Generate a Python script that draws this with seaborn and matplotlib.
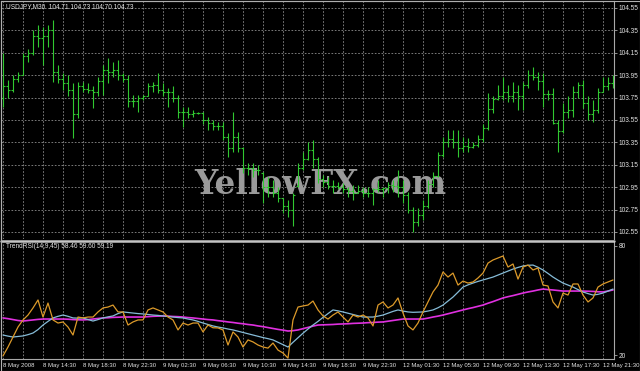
import matplotlib
matplotlib.use("Agg")
import matplotlib.pyplot as plt
from matplotlib.lines import Line2D
import seaborn as sns
import pandas as pd
import numpy as np

# ---------------- data ----------------
symbol_title = "USDJPY,M30  104.71 104.73 104.70 104.73"
ind_title = "TrendRSI(14,9,45) 58.46 59.60 59.19"

highs = [104.15,103.91,103.95,103.98,104.15,104.18,104.35,104.40,104.38,104.40,
         104.44,104.04,103.97,103.95,103.88,103.89,103.89,103.88,103.85,103.93,
         104.04,104.10,104.07,104.09,103.97,103.95,103.77,103.77,103.77,103.88,
         103.89,103.97,103.88,103.84,103.85,103.77,103.67,103.67,103.64,103.62,
         103.62,103.58,103.55,103.53,103.53,103.43,103.62,103.44,103.31,103.17,
         103.17,103.15,103.09,103.04,103.01,102.95,102.85,102.84,102.90,103.17,
         103.26,103.35,103.37,103.22,103.06,103.04,103.01,103.00,102.99,102.95,
         102.97,102.97,102.95,102.95,102.94,103.01,102.95,103.00,103.01,103.10,
         103.01,102.91,102.77,102.76,102.84,103.01,103.09,103.26,103.40,103.46,
         103.46,103.46,103.40,103.39,103.35,103.42,103.51,103.79,103.76,103.86,
         103.93,103.86,103.89,103.86,103.89,104.00,104.02,103.98,103.97,103.82,
         103.84,103.55,103.70,103.76,103.85,103.89,103.91,103.76,103.73,103.84,
         103.93,103.93,103.95]
lows = [103.67,103.75,103.80,103.89,103.95,104.07,104.13,104.20,104.04,104.20,
        103.89,103.88,103.82,103.76,103.39,103.57,103.80,103.79,103.66,103.76,
        103.77,103.88,103.93,103.91,103.89,103.67,103.67,103.62,103.73,103.76,
        103.80,103.79,103.76,103.67,103.71,103.57,103.49,103.57,103.58,103.60,
        103.51,103.46,103.46,103.46,103.37,103.22,103.26,103.26,103.08,103.06,
        103.04,103.06,102.81,102.86,102.86,102.82,102.72,102.68,102.60,102.95,
        103.10,103.19,103.12,102.99,102.95,102.93,102.90,102.93,102.90,102.86,
        102.84,102.90,102.86,102.86,102.79,102.91,102.86,102.90,102.91,102.86,
        102.81,102.72,102.55,102.60,102.66,102.76,102.95,103.04,103.22,103.31,
        103.30,103.22,103.26,103.26,103.30,103.31,103.35,103.46,103.61,103.73,
        103.73,103.71,103.71,103.64,103.64,103.84,103.91,103.82,103.67,103.73,
        103.51,103.26,103.43,103.57,103.58,103.75,103.66,103.55,103.53,103.61,
        103.80,103.82,103.84]
closes = [103.85,103.82,103.92,103.95,104.12,104.15,104.30,104.28,104.30,104.35,
          103.98,103.92,103.88,103.82,103.60,103.85,103.83,103.82,103.80,103.90,
          104.00,103.98,104.00,103.95,103.92,103.72,103.72,103.75,103.76,103.85,
          103.86,103.82,103.80,103.80,103.75,103.62,103.62,103.60,103.61,103.61,
          103.55,103.52,103.50,103.50,103.40,103.30,103.40,103.30,103.12,103.12,
          103.10,103.10,102.95,102.95,102.90,102.85,102.78,102.75,102.88,103.12,
          103.20,103.28,103.20,103.02,103.00,102.96,102.96,102.95,102.93,102.92,
          102.90,102.92,102.90,102.90,102.93,102.93,102.94,102.97,102.96,102.95,
          102.88,102.75,102.64,102.70,102.78,102.98,103.05,103.24,103.35,103.38,
          103.35,103.30,103.32,103.31,103.33,103.38,103.48,103.65,103.74,103.76,
          103.80,103.76,103.80,103.76,103.86,103.95,103.93,103.90,103.78,103.78,
          103.52,103.45,103.62,103.64,103.80,103.86,103.70,103.60,103.64,103.80,
          103.85,103.88,103.90]
opens = [103.75,103.85,103.82,103.92,103.95,104.12,104.15,104.30,104.28,104.30,
         104.35,103.98,103.92,103.88,103.82,103.60,103.85,103.83,103.82,103.80,
         103.90,104.00,103.98,104.00,103.95,103.92,103.72,103.72,103.75,103.76,
         103.85,103.86,103.82,103.80,103.80,103.75,103.62,103.62,103.60,103.61,
         103.61,103.55,103.52,103.50,103.50,103.40,103.30,103.40,103.30,103.12,
         103.12,103.10,103.08,102.95,102.95,102.90,102.85,102.78,102.75,102.96,
         103.12,103.20,103.28,103.20,103.02,103.00,102.96,102.96,102.95,102.93,
         102.92,102.90,102.92,102.90,102.90,102.93,102.93,102.94,102.97,102.96,
         102.95,102.88,102.75,102.64,102.70,102.78,102.98,103.05,103.24,103.35,
         103.38,103.35,103.30,103.32,103.31,103.33,103.38,103.48,103.65,103.74,
         103.76,103.80,103.76,103.80,103.76,103.86,103.95,103.93,103.90,103.78,
         103.78,103.52,103.45,103.62,103.64,103.80,103.86,103.70,103.60,103.64,
         103.80,103.85,103.88]

rsi = [19.5,24.4,29.9,35.4,39.3,42.0,45.9,50.3,40.9,48.6,
       39.3,37.6,38.2,35.4,31.0,40.9,40.4,40.9,40.9,43.7,
       45.9,46.4,47.5,43.7,43.7,36.5,38.2,39.3,39.3,44.8,
       45.9,44.8,43.7,40.9,39.3,33.8,37.6,36.5,37.6,37.6,
       32.7,36.5,35.0,34.9,33.8,25.5,32.7,29.9,24.4,28.3,
       27.2,25.5,24.4,23.8,26.6,22.7,21.1,18.3,39.3,46.4,
       47.0,47.5,49.7,44.8,41.5,39.8,42.0,43.7,40.9,38.2,
       42.0,40.9,42.0,40.4,36.0,47.5,49.2,45.9,47.5,51.4,
       43.1,36.0,33.8,37.6,43.7,49.2,54.7,58.5,65.7,62.9,
       65.1,58.5,60.7,59.6,60.2,62.4,65.1,70.6,72.3,73.4,
       74.5,68.4,70.1,61.8,68.4,69.5,66.8,67.9,58.5,58.0,
       49.2,45.9,54.1,53.0,59.1,59.1,53.0,49.2,51.4,57.4,
       59.1,60.2,61.3]
signal = [31.0,30.4,29.9,30.2,30.5,31.2,32.1,34.0,36.5,38.5,
          40.4,41.3,42.0,41.3,40.4,40.3,40.4,39.5,38.7,39.5,
          40.4,41.0,41.5,42.8,43.7,43.4,43.1,42.8,42.6,42.3,
          42.0,41.8,41.5,41.2,40.9,40.6,40.4,39.8,39.3,38.5,
          37.6,36.8,36.0,35.4,34.9,34.3,33.8,33.1,32.4,31.7,
          31.0,30.3,29.6,29.0,28.3,27.0,25.7,24.4,27.0,29.5,
          32.0,34.3,36.5,38.5,40.7,42.8,44.8,44.3,43.7,43.0,
          42.3,41.6,40.9,40.9,40.9,41.4,42.0,43.0,44.0,44.8,
          44.2,43.7,43.5,43.6,43.7,44.2,44.8,46.0,47.5,49.7,
          51.9,54.6,57.4,58.6,59.6,60.5,61.3,62.1,62.9,64.0,
          65.1,66.2,67.3,68.2,69.0,69.4,69.5,68.3,66.8,64.9,
          62.9,61.2,59.6,58.5,57.4,56.0,54.7,53.8,53.0,53.4,
          54.1,55.2,56.3]
slow = [40.4,40.0,39.5,39.0,38.7,39.0,39.3,39.6,39.8,39.8,
        39.8,39.8,39.8,39.7,39.5,39.4,39.3,39.5,39.8,40.1,
        40.4,40.5,40.7,40.8,40.9,40.9,40.9,40.9,40.9,41.1,
        41.3,41.4,41.5,41.4,41.2,41.1,40.9,40.6,40.4,40.1,
        39.8,39.5,39.3,38.9,38.6,38.2,37.9,37.5,37.2,36.8,
        36.5,36.0,35.6,35.1,34.6,34.1,33.7,33.2,33.4,33.8,
        34.5,35.2,35.9,36.5,36.6,36.7,36.8,37.0,37.1,37.2,
        37.4,37.5,37.6,37.8,37.9,38.1,38.2,38.6,39.0,39.4,
        39.8,39.8,39.8,39.8,39.8,40.3,40.9,41.4,42.0,42.7,
        43.4,44.1,44.8,45.5,46.1,46.8,47.5,48.5,49.4,50.4,
        51.4,52.1,52.7,53.4,54.1,54.7,55.2,55.8,56.3,56.0,
        55.8,55.5,55.2,55.2,55.2,55.2,55.2,55.1,55.0,54.8,
        54.7,55.2,55.8]

price_levels = [104.55,104.35,104.15,103.95,103.75,103.55,103.35,103.15,102.95,102.75,102.55]
ind_levels = [80, 20]
date_labels = ["8 May 2008","8 May 14:30","8 May 18:30","8 May 22:30",
               "9 May 02:30","9 May 06:30","9 May 10:30","9 May 14:30",
               "9 May 18:30","9 May 22:30","12 May 01:30","12 May 05:30",
               "12 May 09:30","12 May 13:30","12 May 17:30","12 May 21:30"]
watermark = "YellowFX.com"

# ---------------- style ----------------
sns.set_theme(style="dark")
plt.rcParams["font.family"] = ["Liberation Sans", "DejaVu Sans"]

W, H = 640, 371
BG = "black"
TXT = "#e4e4e4"
GRID = "#8e8e8e"
FRAME = "#a8a8a8"
BAR = "#30c830"
FS = 4.7
FS_DATE = 4.3

fig = plt.figure(figsize=(6.4, 3.71), dpi=100, facecolor=BG)
ax1 = fig.add_axes([1 / W, 1 - 239 / H, 613 / W, 238 / H], facecolor=BG)
ax2 = fig.add_axes([1 / W, 1 - 359 / H, 613 / W, 117 / H], facecolor=BG)

n = len(closes)
xs = np.arange(n)

for ax in (ax1, ax2):
    ax.set_xlim(-0.4, 122.2)
    ax.grid(False)
    for g in range(0, n, 4):
        ax.axvline(g, color=GRID, lw=0.6, ls=(0, (2, 2)), zorder=1)
    for s in ax.spines.values():
        s.set_color(FRAME)
        s.set_linewidth(0.8)
        s.set_visible(True)

ax1.set_ylim(102.4875, 104.6125)
ax2.set_ylim(17.8, 82.2)

for lv in price_levels:
    ax1.axhline(lv, color=GRID, lw=0.6, ls=(0, (2, 2)), zorder=1)

# watermark (behind bars)
ax1.text(320 / W, 1 - 193.5 / H, watermark, transform=fig.transFigure,
         ha="center", va="baseline", fontsize=23.5, family="DejaVu Serif",
         weight="bold", color="#9a9a9a", zorder=1.5)

# OHLC bars
ax1.vlines(xs, lows, highs, color=BAR, lw=0.8, zorder=2)
ax1.hlines(opens, xs - 0.32, xs, color=BAR, lw=0.8, zorder=2)
ax1.hlines(closes, xs, xs + 0.32, color=BAR, lw=0.8, zorder=2)

# indicator lines
df = pd.DataFrame({
    "bar": np.concatenate([xs, xs, xs]),
    "value": np.concatenate([slow, signal, rsi]),
    "series": ["slow"] * n + ["signal"] * n + ["rsi"] * n,
})
palette = {"slow": "#e030e0", "signal": "#86bcd8", "rsi": "#dc9a2a"}
sns.lineplot(data=df, x="bar", y="value", hue="series",
             hue_order=["slow", "signal", "rsi"], palette=palette,
             ax=ax2, legend=False, linewidth=0.9, zorder=3)
ax2.lines[-3].set_linewidth(1.2)

# axes ticks
ax1.set_yticks(price_levels)
ax1.set_yticklabels([f"{p:.2f}" for p in price_levels])
ax1.yaxis.tick_right()
ax1.set_xticks([])
ax1.tick_params(axis="y", colors=FRAME, labelcolor=TXT, labelsize=FS,
                length=2, width=0.6, pad=1.5, direction="out")
ax1.spines["bottom"].set_visible(False)

ax2.set_yticks(ind_levels)
ax2.set_yticklabels([str(v) for v in ind_levels])
ax2.yaxis.tick_right()
ax2.set_xticks(list(range(0, n, 8)))
ax2.set_xticklabels(date_labels, ha="left")
ax2.tick_params(axis="y", colors=FRAME, labelcolor=TXT, labelsize=FS,
                length=2, width=0.6, pad=1.5, direction="out")
ax2.tick_params(axis="x", colors=FRAME, labelcolor=TXT, labelsize=FS_DATE,
                length=2, width=0.6, pad=1.2, direction="out")
ax2.spines["top"].set_visible(False)
ax2.set_xlabel("")
ax2.set_ylabel("")
ax1.set_xlabel("")
ax1.set_ylabel("")

# separator between panels
fig.add_artist(Line2D([1 / W, 614 / W], [1 - 240.5 / H, 1 - 240.5 / H],
                      transform=fig.transFigure, color="#c4c4c4", lw=1.8))
# outer frame
fig.add_artist(Line2D([0.5 / W, 639.5 / W, 639.5 / W, 0.5 / W, 0.5 / W],
                      [1 - 0.5 / H, 1 - 0.5 / H, 0.5 / H, 0.5 / H, 1 - 0.5 / H],
                      transform=fig.transFigure, color="#b0b0b0", lw=0.8))

# titles
fig.text(6 / W, 1 - 6.5 / H, symbol_title, ha="left", va="center",
         fontsize=FS, color=TXT)
fig.text(6 / W, 1 - 247 / H, ind_title, ha="left", va="center",
         fontsize=FS, color=TXT)

fig.savefig("out.png", dpi=100, facecolor=BG)
